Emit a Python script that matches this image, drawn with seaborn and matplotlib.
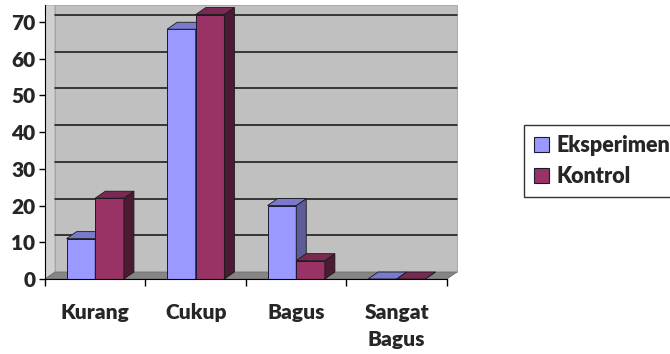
import numpy as np
import matplotlib
matplotlib.use("Agg")
import matplotlib.pyplot as plt
from matplotlib.patches import Polygon
import seaborn as sns
import pandas as pd

categories = ["Kurang", "Cukup", "Bagus", "Sangat\nBagus"]
series = ["Eksperimen", "Kontrol"]
eksperimen = [11, 68, 20, 0]
kontrol = [22, 72, 5, 0]
y_ticks = [0, 10, 20, 30, 40, 50, 60, 70]

# front / top / side colours for each series (excel 3d style)
front_colors = {"Eksperimen": "#9999ff", "Kontrol": "#993366"}
top_colors = {"Eksperimen": "#7a7acc", "Kontrol": "#7a2952"}
side_colors = {"Eksperimen": "#5c5c99", "Kontrol": "#4d1a33"}

df = pd.DataFrame({
    "kategori": categories * 2,
    "nilai": eksperimen + kontrol,
    "kelompok": [series[0]] * 4 + [series[1]] * 4,
})

sns.set_style("white")
plt.rcParams["font.family"] = ["Lato", "DejaVu Sans"]
W = "heavy"

fig = plt.figure(figsize=(6.7, 3.54), dpi=100)
ax = fig.add_axes([45 / 670, 1 - 279 / 354, 414 / 670, 274 / 354])

# depth of the fake 3d effect, in data units
dx, dy = 0.1, 1.9
y_top = 74.6
x0, x1 = -0.5, len(categories) - 0.5

# walls and floor
ax.add_patch(Polygon([(x0 + dx, dy), (x1 + dx, dy), (x1 + dx, y_top), (x0 + dx, y_top)],
                     closed=True, facecolor="#c0c0c0", edgecolor="#a0a0a0", lw=0.6, zorder=0.5))
ax.add_patch(Polygon([(x0, 0), (x0 + dx, dy), (x0 + dx, y_top), (x0, y_top)],
                     closed=True, facecolor="#d0d0d0", edgecolor="#a0a0a0", lw=0.6, zorder=0.6))
ax.add_patch(Polygon([(x0, 0), (x1, 0), (x1 + dx, dy), (x0 + dx, dy)],
                     closed=True, facecolor="#858585", edgecolor="#707070", lw=0.6, zorder=0.7))
for v in y_ticks[1:]:
    ax.plot([x0 + dx, x1 + dx], [v + dy, v + dy], color="#111111", lw=1.1, zorder=0.8)

sns.barplot(data=df, x="kategori", y="nilai", hue="kelompok", order=categories,
            hue_order=series, palette=front_colors, width=0.57, gap=0,
            edgecolor="#1a1a33", linewidth=0.7, saturation=1, legend=False, ax=ax)

# add top and side faces to every bar, taken from the bar geometry
n = len(categories)
for i, patch in enumerate(ax.patches[-2 * n:]):
    s = series[i // n]
    c = i % n
    z = 2 + c * 2 + i // n
    patch.set_zorder(z)
    bx, by = patch.get_x(), patch.get_y()
    bw, bh = patch.get_width(), patch.get_height()
    top = [(bx, by + bh), (bx + bw, by + bh), (bx + bw + dx, by + bh + dy), (bx + dx, by + bh + dy)]
    side = [(bx + bw, by), (bx + bw + dx, by + dy), (bx + bw + dx, by + bh + dy), (bx + bw, by + bh)]
    ax.add_patch(Polygon(side, closed=True, facecolor=side_colors[s], edgecolor="#1a1a1a", lw=0.6, zorder=z))
    ax.add_patch(Polygon(top, closed=True, facecolor=top_colors[s], edgecolor="#1a1a1a", lw=0.6, zorder=z))

ax.set_xlim(x0, x1 + dx + 0.02)
ax.set_ylim(0, y_top)
ax.set_facecolor("white")
for sp in ["top", "right"]:
    ax.spines[sp].set_visible(False)
ax.spines["left"].set_color("black")
ax.spines["bottom"].set_color("black")
ax.spines["bottom"].set_bounds(x0, x1)
ax.spines["left"].set_zorder(30)
ax.spines["bottom"].set_zorder(30)

ax.set_yticks(y_ticks)
ax.set_yticklabels([str(v) for v in y_ticks], fontsize=15, fontweight=W)
ax.tick_params(axis="y", direction="out", length=4, width=1, color="black", pad=3, left=True)
ax.set_xticks(range(n))
ax.set_xticklabels(categories, fontsize=15, fontweight=W, linespacing=1.5)
ax.set_xticks(np.arange(x0, x1 + 0.5, 1.0), minor=True)
ax.tick_params(axis="x", which="major", length=0, pad=17)
ax.tick_params(axis="x", which="minor", direction="out", length=5, width=1, color="black", bottom=True)
ax.set_xlabel("")
ax.set_ylabel("")

handles = [plt.Rectangle((0, 0), 1, 1, facecolor=front_colors[s], edgecolor="#1a1a33", lw=0.8) for s in series]
leg = fig.legend(handles, series, loc="upper left", bbox_to_anchor=(524 / 670, 1 - 125 / 354),
                 prop={"family": "Lato", "weight": W, "size": 15.5},
                 frameon=True, fancybox=False, edgecolor="black", handlelength=0.7, handleheight=0.7,
                 handletextpad=0.35, labelspacing=0.5, borderpad=0.45, borderaxespad=0)
leg.get_frame().set_linewidth(1.0)

fig.savefig("out.png", dpi=100)
